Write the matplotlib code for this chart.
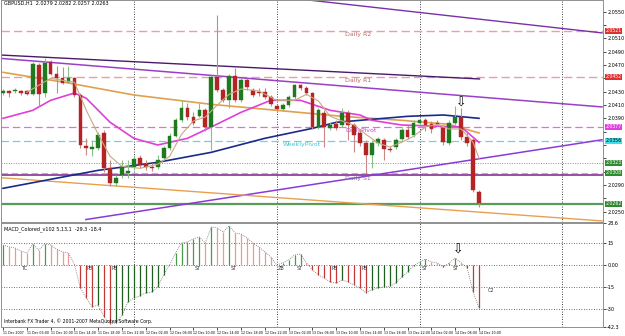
import matplotlib
matplotlib.use("Agg")
import matplotlib.pyplot as plt

# ---------------- data (GBPUSD H1, 11-14 Dec 2007) ----------------
opens = [2.0428, 2.0431, 2.0431, 2.0431, 2.0431, 2.0426, 2.0470, 2.0428, 2.0474, 2.0456,
         2.0450, 2.0444, 2.0450, 2.0425, 2.0348, 2.0344, 2.0345, 2.0368, 2.0315, 2.0293,
         2.0305, 2.0308, 2.0317, 2.0330, 2.0321, 2.0317, 2.0317, 2.0330, 2.0345, 2.0363,
         2.0387, 2.0405, 2.0392, 2.0393, 2.0402, 2.0377, 2.0452, 2.0432, 2.0417, 2.0453,
         2.0417, 2.0447, 2.0432, 2.0429, 2.0429, 2.0422, 2.0408, 2.0404, 2.0410, 2.0422,
         2.0440, 2.0435, 2.0428, 2.0377, 2.0398, 2.0375, 2.0381, 2.0380, 2.0398, 2.0380,
         2.0368, 2.0353, 2.0335, 2.0353, 2.0357, 2.0344, 2.0347, 2.0359, 2.0372, 2.0365,
         2.0383, 2.0387, 2.0381, 2.0383, 2.0375, 2.0353, 2.0383, 2.0392, 2.0362, 2.0357,
         2.0279]
highs = [2.0434, 2.0432, 2.0435, 2.0432, 2.0432, 2.0474, 2.0473, 2.0480, 2.0477, 2.0468,
         2.0467, 2.0468, 2.0452, 2.0428, 2.0360, 2.0357, 2.0369, 2.0372, 2.0327, 2.0305,
         2.0327, 2.0327, 2.0335, 2.0335, 2.0327, 2.0323, 2.0335, 2.0348, 2.0368, 2.0390,
         2.0417, 2.0413, 2.0399, 2.0413, 2.0405, 2.0455, 2.0545, 2.0435, 2.0456, 2.0465,
         2.0450, 2.0450, 2.0435, 2.0435, 2.0435, 2.0425, 2.0411, 2.0413, 2.0425, 2.0441,
         2.0441, 2.0438, 2.0429, 2.0405, 2.0402, 2.0384, 2.0387, 2.0405, 2.0402, 2.0383,
         2.0372, 2.0357, 2.0357, 2.0362, 2.0360, 2.0348, 2.0360, 2.0375, 2.0380, 2.0387,
         2.0390, 2.0390, 2.0386, 2.0387, 2.0380, 2.0387, 2.0408, 2.0405, 2.0369, 2.0360,
         2.0282]
lows = [2.0425, 2.0422, 2.0428, 2.0425, 2.0425, 2.0425, 2.0408, 2.0422, 2.0455, 2.0428,
        2.0441, 2.0443, 2.0422, 2.0345, 2.0335, 2.0333, 2.0342, 2.0309, 2.0288, 2.0288,
        2.0300, 2.0300, 2.0312, 2.0315, 2.0312, 2.0311, 2.0314, 2.0327, 2.0342, 2.0362,
        2.0384, 2.0387, 2.0380, 2.0392, 2.0371, 2.0342, 2.0429, 2.0414, 2.0405, 2.0414,
        2.0414, 2.0432, 2.0422, 2.0423, 2.0419, 2.0408, 2.0401, 2.0401, 2.0407, 2.0419,
        2.0432, 2.0425, 2.0374, 2.0374, 2.0347, 2.0372, 2.0372, 2.0377, 2.0357, 2.0339,
        2.0348, 2.0308, 2.0315, 2.0348, 2.0327, 2.0339, 2.0344, 2.0356, 2.0359, 2.0362,
        2.0380, 2.0371, 2.0368, 2.0378, 2.0350, 2.0350, 2.0380, 2.0357, 2.0348, 2.0279,
        2.0257]
closes = [2.0431, 2.0428, 2.0432, 2.0428, 2.0426, 2.0471, 2.0426, 2.0473, 2.0456, 2.0450,
          2.0443, 2.0450, 2.0425, 2.0350, 2.0345, 2.0347, 2.0365, 2.0315, 2.0293, 2.0300,
          2.0317, 2.0311, 2.0329, 2.0320, 2.0317, 2.0315, 2.0327, 2.0345, 2.0363, 2.0387,
          2.0405, 2.0392, 2.0383, 2.0402, 2.0377, 2.0452, 2.0432, 2.0417, 2.0453, 2.0417,
          2.0447, 2.0437, 2.0425, 2.0428, 2.0422, 2.0411, 2.0404, 2.0410, 2.0422, 2.0440,
          2.0435, 2.0428, 2.0377, 2.0402, 2.0377, 2.0380, 2.0375, 2.0398, 2.0380, 2.0365,
          2.0353, 2.0335, 2.0353, 2.0359, 2.0344, 2.0342, 2.0357, 2.0372, 2.0362, 2.0383,
          2.0387, 2.0380, 2.0374, 2.0381, 2.0354, 2.0383, 2.0392, 2.0362, 2.0353, 2.0282,
          2.0263]

macd_hist = [13.6, 12.3, 11.6, 9.5, 8.2, 14.3, 10.2, 14.3, 13.6, 10.9,
             8.9, 8.2, 0.5, -15.7, -22.5, -28.6, -27.3, -35.5, -40.0, -39.5,
             -34.1, -25.2, -22.5, -21.1, -19.1, -18.4, -15.0, -6.8, 0.0, 8.2,
             15.0, 15.7, 17.7, 19.1, 15.0, 25.9, 25.2, 22.5, 26.6, 21.8,
             21.1, 18.4, 15.0, 12.3, 8.9, 5.5, 0.0, 1.4, 3.4, 6.8,
             7.5, 1.4, -3.4, -6.8, -8.9, -11.6, -12.3, -10.2, -11.6, -13.6,
             -15.7, -19.1, -17.0, -15.7, -15.0, -14.5, -12.3, -8.2, -4.8, -0.5,
             2.0, 4.1, 2.0, 1.4, -1.4, 1.4, 4.8, 1.4, -2.0, -18.4,
             -29.3]

# moving averages (bar index, price)
ma_slow_idx = [0, 11, 22, 35, 46, 57, 67, 75, 80]
ma_slow_val = [2.0459, 2.0443, 2.0425, 2.0411, 2.0402, 2.0393, 2.0387, 2.0381, 2.0368]
ma_mid_idx = [0, 5, 8, 12, 14, 18, 22, 26, 31, 35, 40, 45, 50, 55, 60, 62, 67, 77, 80]
ma_mid_val = [2.0390, 2.0402, 2.0417, 2.0428, 2.0420, 2.0384, 2.0360, 2.0350, 2.0360,
              2.0377, 2.0399, 2.0417, 2.0417, 2.0402, 2.0395, 2.0387, 2.0380, 2.0377, 2.0354]
ma_long_idx = [0, 16, 26, 35, 44, 52, 56, 68, 74, 80]
ma_long_val = [2.0285, 2.0312, 2.0324, 2.0339, 2.0360, 2.0375, 2.0384, 2.0393, 2.0395, 2.0390]
ma_fast_idx = [4, 8, 12, 14, 16, 18, 20, 23, 26, 28, 30, 32, 34, 36, 38, 40, 43, 46, 49, 51,
               53, 55, 57, 59, 61, 63, 65, 67, 69, 71, 73, 75, 77, 79, 80]
ma_fast_val = [2.0429, 2.0450, 2.0444, 2.0402, 2.0366, 2.0333, 2.0318, 2.0315, 2.0321, 2.0333,
               2.0366, 2.0386, 2.0392, 2.0410, 2.0426, 2.0434, 2.0431, 2.0417, 2.0417, 2.0426,
               2.0416, 2.0393, 2.0386, 2.0380, 2.0366, 2.0353, 2.0347, 2.0354, 2.0363, 2.0377,
               2.0381, 2.0374, 2.0374, 2.0354, 2.0330]

# pivot levels
daily_r2 = 2.0521
daily_r1 = 2.0452
daily_pivot = 2.0377
weekly_pivot = 2.0356
level_dotted = 2.0323
daily_s1 = 2.0308
purple_level = 2.0305
bid_level = 2.0262

# trend lines: (x0, y0, x1, y1) in bar index / price
trend_a = (-0.5, 2.0485, 80.2, 2.0449)
trend_b = (-0.5, 2.0480, 100.8, 2.0407)
trend_c = (50.8, 2.0568, 100.8, 2.0518)
trend_d = (13.8, 2.0238, 100.8, 2.0358)
trend_f = (-0.5, 2.0301, 100.8, 2.0236)

tick_idx = list(range(0, 81, 4))
tick_labels = ["11 Dec 2007", "11 Dec 06:00", "11 Dec 10:00", "11 Dec 14:00", "11 Dec 18:00",
               "11 Dec 22:00", "12 Dec 02:00", "12 Dec 06:00", "12 Dec 10:00", "12 Dec 14:00",
               "12 Dec 18:00", "12 Dec 22:00", "13 Dec 02:00", "13 Dec 06:00", "13 Dec 10:00",
               "13 Dec 14:00", "13 Dec 18:00", "13 Dec 22:00", "14 Dec 02:00", "14 Dec 06:00",
               "14 Dec 10:00"]
grid_idx = [22, 46, 70, 94]

macd_labels = ["TC", "PB", "PB", "ST", "ST", "ZB", "ST", "PB", "PB", "ST", "ST"]
macd_label_idx = [3.5, 14.6, 18.8, 32.8, 38.8, 46.7, 49.9, 55.8, 60.8, 70.9, 76.0]

# ---------------- figure ----------------
fig = plt.figure(figsize=(6.25, 3.36), dpi=100)
fig.patch.set_facecolor("white")
ax = fig.add_axes([0.0016, 0.3393, 0.9632, 0.6607])
ax2 = fig.add_axes([0.0016, 0.0268, 0.9632, 0.3095], sharex=ax)

n = len(closes)
xs = list(range(n))
ax.set_xlim(-0.34, 100.84)
ax.set_ylim(2.02345, 2.05675)

for a in (ax, ax2):
    for s in a.spines.values():
        s.set_color("#909090")
        s.set_linewidth(0.7)
    for g in grid_idx:
        a.axvline(g, color="black", ls=(0, (1, 2)), lw=0.6, zorder=0)

# horizontal levels
ax.axhline(daily_r2, color="#e8a0a0", lw=1.0, ls=(0, (6, 3)), zorder=1)
ax.axhline(daily_r1, color="#e8a0a0", lw=1.0, ls=(0, (6, 3)), zorder=1)
ax.axhline(daily_pivot, color="#e070e0", lw=0.9, ls=(0, (6, 3)), zorder=1)
ax.axhline(weekly_pivot, color="#70d0e0", lw=0.9, ls=(0, (6, 3)), zorder=1)
ax.axhline(level_dotted, color="#909090", lw=0.7, ls=(0, (1, 1.5)), zorder=1)
ax.axhline(daily_s1, color="#a8c0a8", lw=0.8, ls=(0, (6, 3)), zorder=1)
ax.axhline(purple_level, color="#7a1f8a", lw=1.1, zorder=1)
ax.axhline(bid_level, color="#5a9a5a", lw=1.6, zorder=1)

# trend lines
for (x0, y0, x1, y1), col, lw in [(trend_a, "#4a1a6a", 1.0), (trend_b, "#9a40c8", 1.1),
                                  (trend_c, "#7a30a8", 1.0), (trend_d, "#8a3ad8", 1.1),
                                  (trend_f, "#e8a050", 1.0)]:
    ax.plot([x0, x1], [y0, y1], color=col, lw=lw, zorder=2, solid_capstyle="butt")

# moving averages
ax.plot(ma_slow_idx, ma_slow_val, color="#e0a050", lw=1.2, zorder=2)
ax.plot(ma_long_idx, ma_long_val, color="#1a2a8c", lw=1.2, zorder=2)
ax.plot(ma_mid_idx, ma_mid_val, color="#e040d8", lw=1.2, zorder=2)
ax.plot(ma_fast_idx, ma_fast_val, color="#c8a882", lw=0.8, zorder=4)

# candles
for i in xs:
    o, h, l, c = opens[i], highs[i], lows[i], closes[i]
    up = c >= o
    body = "#1f7a1f" if up else "#b52424"
    wick = "#88c088" if up else "#c88888"
    ax.vlines(i, l, h, color=wick, lw=0.8, zorder=3)
    ax.bar(i, max(abs(c - o), 0.00005), bottom=min(o, c), width=0.62,
           color=body, edgecolor=body, lw=0.3, zorder=3.5)

# level texts
ax.text(57.5, daily_r2 - 0.0002, "Daily R2", fontsize=4.5, color="#c06868", va="top", ha="left")
ax.text(57.5, daily_r1 - 0.0002, "Daily R1", fontsize=4.5, color="#c06868", va="top", ha="left")
ax.text(57.5, daily_pivot - 0.0002, "DailyPivot", fontsize=4.5, color="#d040d0", va="top", ha="left")
ax.text(47.0, weekly_pivot - 0.0002, "WeeklyPivot", fontsize=4.5, color="#40c8d8", va="top", ha="left")
ax.text(57.5, purple_level - 0.0001, "Daily S1", fontsize=4.5, color="#8a6aa0", va="top", ha="left")

ax.text(77, 2.0413, "\u21e9", fontsize=9, ha="center", va="center", color="black", zorder=6)
ax.text(0.005, 0.995, "GBPUSD,H1  2.0279 2.0282 2.0257 2.0263", transform=ax.transAxes,
        fontsize=3.5, va="top", ha="left", color="black")

# right axis of main (tick labels hidden where a level box covers them)
box_levels = [daily_r2, daily_r1, daily_pivot, weekly_pivot, level_dotted, daily_s1, bid_level]
ax.yaxis.tick_right()
yt = [2.0250 + 0.0020 * k for k in range(16)]
ax.set_yticks(yt)
ax.set_yticklabels(["" if min(abs(v - b) for b in box_levels) < 0.0011 else "%.4f" % v
                    for v in yt])
ax.tick_params(axis="y", labelsize=3.5, length=2, width=0.5, pad=1, colors="black")
ax.tick_params(axis="x", labelbottom=False, length=0)

tr = ax.get_yaxis_transform()
for v, fc, tc in [(daily_r2, "#e03030", "white"), (daily_r1, "#e03030", "white"),
                  (daily_pivot, "#e040e0", "white"), (weekly_pivot, "#40e0e8", "black"),
                  (level_dotted, "#2e8b2e", "white"), (daily_s1, "#2e8b2e", "white"),
                  (bid_level, "#2e8b2e", "white")]:
    ax.text(1.004, v, "%.4f" % v, transform=tr, fontsize=3.3, color=tc, va="center", ha="left",
            bbox=dict(boxstyle="square,pad=0.1", fc=fc, ec="none"), zorder=7, clip_on=False)

# ---------------- MACD panel ----------------
ax2.set_ylim(-42.3, 28.6)
for v in (15, 0, -15, -30):
    ax2.axhline(v, color="#404040", lw=0.6, ls=(0, (1, 2)), zorder=0)
prev = None
for i in xs:
    v = macd_hist[i]
    rising = prev is None or v >= prev
    if v >= 0:
        col = "#4a9a4a" if rising else "#e89a9a"
    else:
        col = "#1e5e1e" if rising else "#c03838"
    ax2.vlines(i, 0, v, color=col, lw=0.9, zorder=2)
    prev = v
ax2.plot(xs, macd_hist, color="#707070", lw=0.6, ls=(0, (1, 1.5)), zorder=3)

for lab, xi in zip(macd_labels, macd_label_idx):
    ax2.text(xi, -2.2, lab, fontsize=3.5, color="#303030", ha="center", va="center", zorder=4)
ax2.text(81.5, -17.5, "C2", fontsize=3.5, color="#303030", ha="left", va="center")
ax2.text(76.5, 10.2, "\u21e9", fontsize=9, ha="center", va="center", color="black", zorder=6)
ax2.text(0.005, 0.97, "MACD_Colored_v102 5,13,1  -29.3 -18.4", transform=ax2.transAxes,
         fontsize=3.5, va="top", ha="left", color="black")
ax2.text(0.005, 0.06, "Interbank FX Trader 4, \u00a9 2001-2007 MetaQuotes Software Corp.",
         transform=ax2.transAxes, fontsize=3.3, va="center", ha="left", color="black")

ax2.yaxis.tick_right()
ax2.set_yticks([28.6, 15, 0, -15, -30, -42.3])
ax2.set_yticklabels(["28.6", "15", "0.00", "-15", "-30", "-42.3"])
ax2.tick_params(axis="y", labelsize=3.5, length=2, width=0.5, pad=1)
ax2.set_xticks(tick_idx)
ax2.set_xticklabels(tick_labels, ha="left")
ax2.tick_params(axis="x", labelsize=2.3, length=2, width=0.5, pad=1)

fig.savefig("out.png", dpi=100, facecolor="white")
